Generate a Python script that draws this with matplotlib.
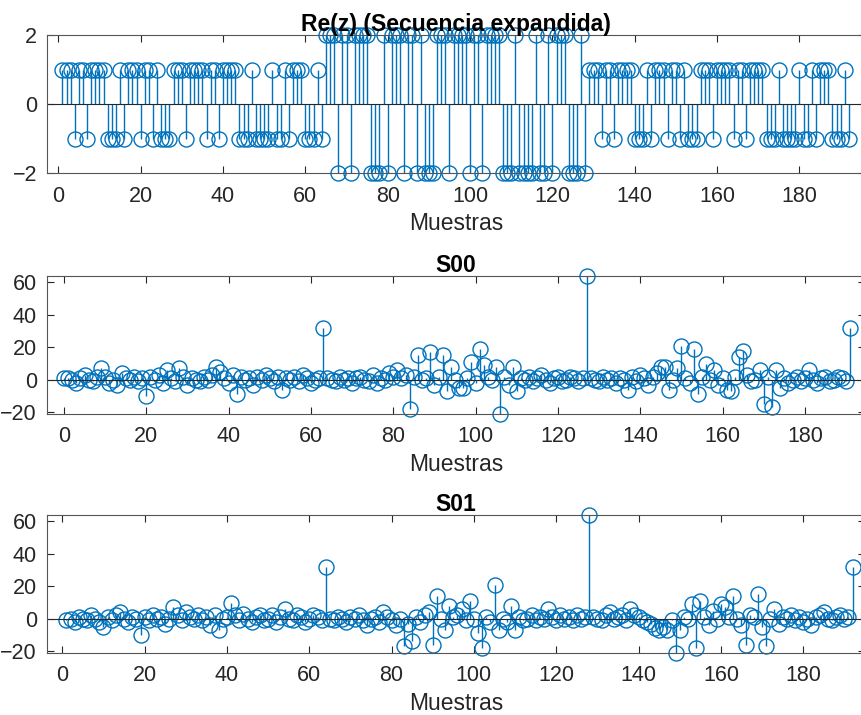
import numpy as np
import matplotlib
matplotlib.use("Agg")
from matplotlib import pyplot as plt

# Re(z), muestras 1..192
re_z = [1, 1, 1, -1, 1, 1, -1, 1, 1, 1, 1, -1, -1, -1, 1, -1, 1, 1, 1, -1, 1, 1, -1, 1, -1, -1, -1, 1, 1, 1, -1, 1,
        1, 1, 1, -1, 1, 1, -1, 1, 1, 1, 1, -1, -1, -1, 1, -1, -1, -1, -1, 1, -1, -1, 1, -1, 1, 1, 1, -1, -1, -1, 1, -1,
        2, 2, 2, -2, 2, 2, -2, 2, 2, 2, 2, -2, -2, -2, 2, -2, 2, 2, 2, -2, 2, 2, -2, 2, -2, -2, -2, 2, 2, 2, -2, 2,
        2, 2, 2, -2, 2, 2, -2, 2, 2, 2, 2, -2, -2, -2, 2, -2, -2, -2, -2, 2, -2, -2, 2, -2, 2, 2, 2, -2, -2, -2, 2, -2,
        1, 1, 1, -1, 1, 1, -1, 1, 1, 1, 1, -1, -1, -1, 1, -1, 1, 1, 1, -1, 1, 1, -1, 1, -1, -1, -1, 1, 1, 1, -1, 1,
        1, 1, 1, -1, 1, 1, -1, 1, 1, 1, 1, -1, -1, -1, 1, -1, -1, -1, -1, 1, -1, -1, 1, -1, 1, 1, 1, -1, -1, -1, 1, -1]

# S00, muestras 0..191
s00 = [1, 1, 0, -2, 1, 3, 0, -1, 2, 7, 2, -2, 0, -3, 4, 1,
       0, 2, -1, 1, -10, 2, 0, 3, -2, 6, 1, -1, 7, 2, -3, 1,
       0, -1, 2, 0, 3, 8, 5, 1, -2, 3, -9, 2, 0, 1, -3, 2,
       0, 3, 1, -1, 2, -6, 1, 0, 2, -1, 3, 1, -2, 0, 1, 32,
       1, 0, -1, 2, 0, 1, -2, 1, 2, 0, -1, 3, -2, 1, 0, 4,
       2, 6, 1, 3, -18, 2, 15, 0, 1, 17, -3, 2, 15, -7, 8, 0,
       -5, -5, 1, 11, -2, 19, 9, 2, 0, 8, -21, 2, -3, 8, -7, 1,
       0, 2, -1, 1, 3, 0, -2, 1, 2, -1, 0, 2, 1, -1, 1, 64,
       1, 0, -1, 2, 0, 1, -2, 1, 0, -6, 2, -1, 3, 1, -3, 2,
       4, 8, 8, -6, 0, 7, 21, 1, -2, 19, -9, 2, 10, 0, 6, -3,
       1, -6, -7, 2, 14, 18, 3, -1, 0, 6, -15, 2, -17, 6, -5, 1,
       -2, 0, 2, -1, 1, 6, 0, -2, 1, 2, -1, 0, 2, 1, -1, 32]

# S01, muestras 1..192
s01 = [-1, 0, -2, 1, 0, -1, 2, 0, -2, -5, 1, -1, 2, 4, 0, -2,
       1, 0, -10, 1, -1, 2, 0, 1, -3, 0, 7, 2, -1, 4, 1, 0,
       2, -1, 1, -4, 2, -7, 0, 1, 10, 2, -1, 3, 0, -2, 1, 2,
       -1, 0, 2, -2, 1, 6, 0, -1, 2, 1, -2, 0, 2, 1, -1, 32,
       0, -1, 1, 0, -2, 1, 0, 2, -1, -4, 0, 1, -2, 4, 1, -1,
       -4, 0, -17, -3, -14, 1, -2, 2, 4, -16, 14, 0, -7, 8, 1, 2,
       6, -1, 11, 0, -9, -18, 1, -2, 21, -7, 0, -2, 8, -7, 1, -1,
       0, 2, -1, 1, 0, 6, 1, -1, 2, 0, 1, -1, 2, 0, 1, 64,
       1, 0, -1, 2, 4, 0, 1, 2, -1, 6, 2, 1, -1, -2, -3, -6,
       -7, -5, -7, -1, -21, -7, 1, 0, 9, -18, 11, 1, -4, 5, 0, 9,
       7, 1, 14, 0, -4, -16, 2, 1, 15, -5, -17, 0, 6, -3, 1, 0,
       2, -1, 1, -2, 0, -4, 1, 2, 4, 0, -1, 1, 2, 0, 1, 32]

titles = ["Re(z) (Secuencia expandida)", "S00", "S01"]
xticks = [0, 20, 40, 60, 80, 100, 120, 140, 160, 180]

plt.rcParams['font.family'] = ['Liberation Sans', 'DejaVu Sans']
azul = '#0072BD'
gris = '#262626'

fig = plt.figure(figsize=(8.61, 7.15), dpi=100)

# [left, bottom, width, height], xlim, ylim, yticks
paneles = [
    (np.arange(1, 193), re_z, [0.0542, 0.7576, 0.9504, 0.1934], (-2.82, 195.9), (-2, 2), [-2, 0, 2]),
    (np.arange(0, 192), s00, [0.0542, 0.4210, 0.9504, 0.1934], (-4.2, 194.6), (-21, 64), [-20, 0, 20, 40, 60]),
    (np.arange(1, 193), s01, [0.0542, 0.0871, 0.9504, 0.1926], (-3.8, 195.0), (-21, 64), [-20, 0, 20, 40, 60]),
]

for i, (x, y, pos, xl, yl, yt) in enumerate(paneles):
    ax = fig.add_axes(pos)
    ml, sl, bl = ax.stem(x, y)
    plt.setp(sl, color=azul, linewidth=1.0)
    plt.setp(ml, color=azul, markerfacecolor='none', markersize=10.8, markeredgewidth=1.0)
    plt.setp(bl, color=gris, linewidth=0.8)
    bl.set_xdata([xl[0], xl[1]])
    for m in (ml, sl):
        m.set_clip_on(False)
    ax.set_xlim(xl)
    ax.set_ylim(yl)
    ax.set_xticks(xticks)
    ax.set_yticks(yt)
    ax.tick_params(direction='in', top=True, right=True, length=5, width=0.8,
                   labelsize=15.5, colors=gris, pad=7)
    ax.tick_params(axis='x', pad=9)
    for s in ax.spines.values():
        s.set_color('#555555')
        s.set_linewidth(0.8)
    ax.set_title(titles[i], fontsize=16.5, fontweight='bold', pad=3)
    ax.set_xlabel("Muestras", fontsize=16.5, color=gris, labelpad=4)

fig.savefig("out.png", dpi=100)
